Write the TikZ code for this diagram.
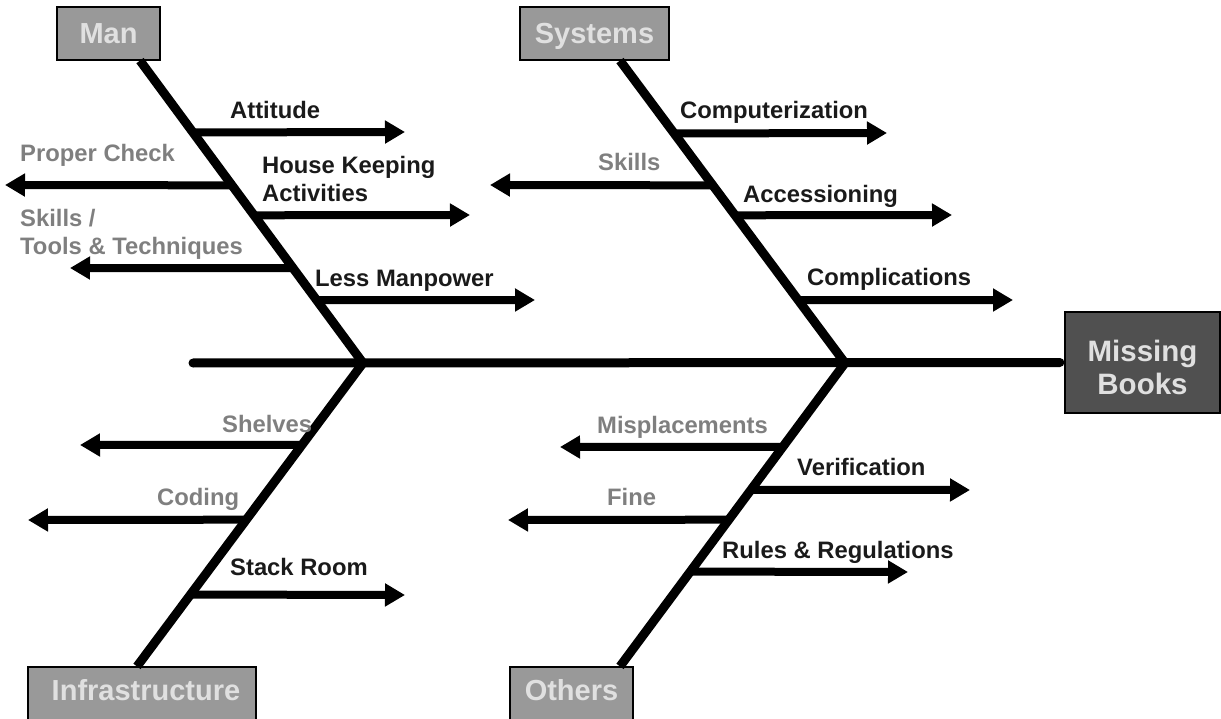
\documentclass[tikz,border=0pt]{standalone}
\usepackage{fontspec}
\setmainfont{Liberation Sans}
\usetikzlibrary{arrows.meta,calc}
\definecolor{boxgray}{HTML}{999999}
\definecolor{boxdark}{HTML}{505050}
\definecolor{boxtext}{HTML}{E0E0E0}
\definecolor{labgray}{HTML}{7F7F7F}
\definecolor{labdark}{HTML}{1A1A1A}
\begin{document}
\begin{tikzpicture}[x=1pt,y=-1pt,
  catbox/.style={draw=black, line width=1.2pt, fill=boxgray, text=boxtext,
    font=\bfseries\fontsize{29}{30}\selectfont, inner sep=0pt,
    text height=20.8pt, text depth=0pt},
  effectbox/.style={draw=black, line width=1.2pt, fill=boxdark, text=boxtext,
    font=\bfseries\fontsize{29.5}{33}\selectfont, inner sep=0pt, align=center},
  bone/.style={line width=9pt, line join=miter},
  cause/.style={line width=8pt, -{Triangle[length=20pt,width=22pt]}},
  blab/.style={anchor=base west, text=labdark, inner sep=0pt,
    font=\bfseries\fontsize{23.8}{28}\selectfont},
  glab/.style={blab, text=labgray},
  mlab/.style={anchor=north west, align=left, inner sep=0pt,
    font=\bfseries\fontsize{23.8}{28}\selectfont}
]
\useasboundingbox (0,0) rectangle (1221,719);
\clip (0,0) rectangle (1221,719);

% category and effect boxes
\node[catbox, minimum width=103pt, minimum height=53pt] (man) at (108.5,33.5) {Man};
\node[catbox, minimum width=149pt, minimum height=53pt] (sys) at (594.5,33.5) {Systems};
\node[catbox, minimum width=228pt, minimum height=60pt, text depth=14.5pt] (infra) at (142,697) {\hspace{8pt}Infrastructure};
\node[catbox, minimum width=123pt, minimum height=60pt, text depth=14.5pt] (oth) at (571.5,697) {Others};
\node[effectbox, minimum width=155pt, minimum height=101pt, text height=64pt, text depth=0pt] (eff) at (1142.5,362.5) {Missing\\Books};

% skeleton coordinates
\coordinate (spl) at (193,363);
\coordinate (j1) at (363,363);
\coordinate (j2) at (845,363);
\path (man.south) ++(31.5,0) coordinate (mt);
\path (sys.south) ++(25.5,0) coordinate (st);
\path (infra.north) ++(-5,0) coordinate (it);
\path (oth.north) ++(48.5,0) coordinate (ot);

% spine and bones
\draw[bone, line cap=round, shorten >=4.5pt] (spl) -- (eff.west);
\draw[bone] (mt) -- (j1) -- (it);
\draw[bone] (st) -- (j2) -- (ot);

% Man causes
\path ($(mt)!{(132-60)/303}!(j1)$) coordinate (m1);
\path ($(mt)!{(185-60)/303}!(j1)$) coordinate (m2);
\path ($(mt)!{(215-60)/303}!(j1)$) coordinate (m3);
\path ($(mt)!{(268-60)/303}!(j1)$) coordinate (m4);
\path ($(mt)!{(300-60)/303}!(j1)$) coordinate (m5);
\coordinate (m1e) at (405,132);
\coordinate (m2e) at (5,185);
\coordinate (m3e) at (470,215);
\coordinate (m4e) at (70,268);
\coordinate (m5e) at (535,300);
\draw[cause] (m1) -- (m1e);
\draw[cause] (m2) -- (m2e);
\draw[cause] (m3) -- (m3e);
\draw[cause] (m4) -- (m4e);
\draw[cause] (m5) -- (m5e);
\node[blab] (l-att) at (230,119) {Attitude};
\node[glab] (l-pc) at (20,162) {Proper Check};
\node[mlab, text=labdark] (l-hk) at (262,156) {House Keeping\\Activities};
\node[mlab, text=labgray] (l-st) at (20,209) {Skills /\\Tools \& Techniques};
\node[blab] (l-lm) at (315,287) {Less Manpower};

% Systems causes
\path ($(st)!{(133-60)/303}!(j2)$) coordinate (s1);
\path ($(st)!{(185-60)/303}!(j2)$) coordinate (s2);
\path ($(st)!{(215-60)/303}!(j2)$) coordinate (s3);
\path ($(st)!{(300-60)/303}!(j2)$) coordinate (s4);
\coordinate (s1e) at (887,133);
\coordinate (s2e) at (490,185);
\coordinate (s3e) at (952,215);
\coordinate (s4e) at (1013,300);
\draw[cause] (s1) -- (s1e);
\draw[cause] (s2) -- (s2e);
\draw[cause] (s3) -- (s3e);
\draw[cause] (s4) -- (s4e);
\node[blab] (l-comp) at (680,119) {Computerization};
\node[glab] (l-sk) at (598,171) {Skills};
\node[blab] (l-acc) at (743,203) {Accessioning};
\node[blab] (l-cpl) at (807,286) {Complications};

% Infrastructure causes
\path ($(j1)!{(445-363)/304}!(it)$) coordinate (i1);
\path ($(j1)!{(520-363)/304}!(it)$) coordinate (i2);
\path ($(j1)!{(595-363)/304}!(it)$) coordinate (i3);
\coordinate (i1e) at (80,445);
\coordinate (i2e) at (28,520);
\coordinate (i3e) at (405,595);
\draw[cause] (i1) -- (i1e);
\draw[cause] (i2) -- (i2e);
\draw[cause] (i3) -- (i3e);
\node[glab] (l-sh) at (222,432) {Shelves};
\node[glab] (l-cod) at (157,505) {Coding};
\node[blab] (l-sr) at (230,575) {Stack Room};

% Others causes
\path ($(j2)!{(447-363)/304}!(ot)$) coordinate (o1);
\path ($(j2)!{(490-363)/304}!(ot)$) coordinate (o2);
\path ($(j2)!{(520-363)/304}!(ot)$) coordinate (o3);
\path ($(j2)!{(572-363)/304}!(ot)$) coordinate (o4);
\coordinate (o1e) at (560,447);
\coordinate (o2e) at (970,490);
\coordinate (o3e) at (508,520);
\coordinate (o4e) at (908,572);
\draw[cause] (o1) -- (o1e);
\draw[cause] (o2) -- (o2e);
\draw[cause] (o3) -- (o3e);
\draw[cause] (o4) -- (o4e);
\node[glab] (l-mis) at (597,433) {Misplacements};
\node[blab] (l-ver) at (797,475) {Verification};
\node[glab] (l-fine) at (607,505) {Fine};
\node[blab] (l-rr) at (722,558) {Rules \& Regulations};
\end{tikzpicture}
\end{document}
